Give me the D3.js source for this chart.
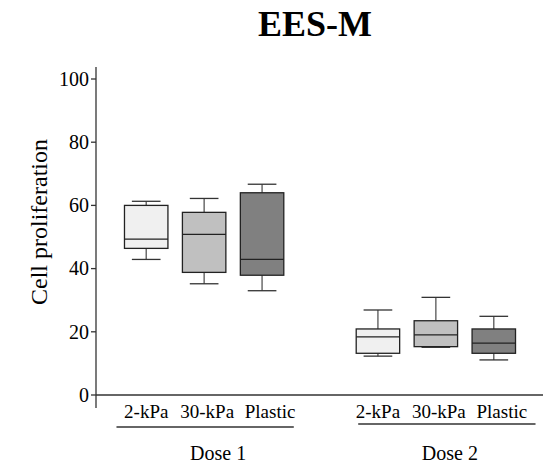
<!DOCTYPE html>
<html>
<head>
<meta charset="utf-8">
<script src="https://cdn.jsdelivr.net/npm/d3@7"></script>
<style>
  body { margin: 0; background: #fff; }
  svg text { font-family: "Liberation Serif", "DejaVu Serif", serif; fill: #000; }
</style>
</head>
<body>
<div id="chart"></div>
<script>
const width = 545;
const height = 467;

// box stats: [min, q1, median, q3, max]
const groups = ["Dose 1", "Dose 2"];
const materials = ["2-kPa", "30-kPa", "Plastic"];
const fills = ["#f0f0f0", "#c0c0c0", "#808080"];
const dose1 = [
  [42.9, 46.4, 49.3, 60.0, 61.3],
  [35.2, 38.8, 50.8, 57.8, 62.2],
  [33.0, 37.9, 42.9, 64.0, 66.7]
];
const dose2 = [
  [12.3, 13.2, 18.4, 20.9, 26.9],
  [15.1, 15.3, 19.0, 23.5, 30.9],
  [11.1, 13.2, 16.4, 20.9, 24.9]
];
const yTicks = [0, 20, 40, 60, 80, 100];

const svg = d3.select("#chart").append("svg")
    .attr("width", width)
    .attr("height", height);

const y = d3.scaleLinear().domain([0, 100]).range([395, 79]);

// 7 slots: 3 boxes, a spacer, 3 boxes
const slots = ["d1-0", "d1-1", "d1-2", "gap", "d2-0", "d2-1", "d2-2"];
const x = d3.scaleBand().domain(slots).range([110, 530]).padding(0.25);

const boxes = [];
[dose1, dose2].forEach((set, g) => {
  set.forEach((s, i) => {
    boxes.push({ key: "d" + (g + 1) + "-" + i, group: g, i, s });
  });
});

// title
svg.append("text")
    .attr("x", 315).attr("y", 36)
    .attr("text-anchor", "middle")
    .style("font-size", "36px")
    .style("font-weight", "bold")
    .text("EES-M");

// y axis
svg.append("line")
    .attr("x1", 96).attr("x2", 96)
    .attr("y1", 67).attr("y2", 408)
    .attr("stroke", "#333").attr("stroke-width", 1.3);

const yt = svg.selectAll(".ytick").data(yTicks).enter().append("g")
    .attr("transform", d => `translate(0,${y(d)})`);
yt.append("line").attr("x1", 91).attr("x2", 96)
    .attr("stroke", "#333").attr("stroke-width", 1.3);
yt.append("text").attr("x", 89).attr("dy", "0.34em")
    .attr("text-anchor", "end")
    .style("font-size", "20px")
    .text(d => d);

svg.append("text")
    .attr("transform", "translate(47,222) rotate(-90)")
    .attr("text-anchor", "middle")
    .style("font-size", "24px")
    .text("Cell proliferation");

// x axis baseline
svg.append("line")
    .attr("x1", 96).attr("x2", 543)
    .attr("y1", y(0)).attr("y2", y(0))
    .attr("stroke", "#333").attr("stroke-width", 1.3);

// boxes
const bw = x.bandwidth();
const cap = bw * 0.66;
const bg = svg.selectAll(".box").data(boxes).enter().append("g")
    .attr("transform", d => `translate(${x(d.key) + bw / 2},0)`);

bg.append("line")
    .attr("y1", d => y(d.s[4])).attr("y2", d => y(d.s[3]))
    .attr("stroke", "#555").attr("stroke-width", 1.3);
bg.append("line")
    .attr("y1", d => y(d.s[1])).attr("y2", d => y(d.s[0]))
    .attr("stroke", "#555").attr("stroke-width", 1.3);
bg.append("line")
    .attr("x1", -cap / 2).attr("x2", cap / 2)
    .attr("y1", d => y(d.s[4])).attr("y2", d => y(d.s[4]))
    .attr("stroke", "#333").attr("stroke-width", 1.3);
bg.append("line")
    .attr("x1", -cap / 2).attr("x2", cap / 2)
    .attr("y1", d => y(d.s[0])).attr("y2", d => y(d.s[0]))
    .attr("stroke", "#333").attr("stroke-width", 1.3);
bg.append("rect")
    .attr("x", -bw / 2).attr("width", bw)
    .attr("y", d => y(d.s[3]))
    .attr("height", d => y(d.s[1]) - y(d.s[3]))
    .attr("fill", d => fills[d.i])
    .attr("stroke", "#222").attr("stroke-width", 1.3);
bg.append("line")
    .attr("x1", -bw / 2).attr("x2", bw / 2)
    .attr("y1", d => y(d.s[2])).attr("y2", d => y(d.s[2]))
    .attr("stroke", "#222").attr("stroke-width", 1.3);

// category labels sit a little wider apart than the boxes
const labelShift = [0, 3, 8];
bg.append("text")
    .attr("x", d => labelShift[d.i])
    .attr("y", 418)
    .attr("text-anchor", "middle")
    .style("font-size", "19px")
    .text(d => materials[d.i]);

// group underlines and names
const lineY = [427, 424];
const lineShift = [0, 10];
groups.forEach((name, g) => {
  const first = x("d" + (g + 1) + "-0");
  const last = x("d" + (g + 1) + "-2") + bw;
  svg.append("line")
      .attr("x1", first - 8 + lineShift[g]).attr("x2", last + 10 + lineShift[g])
      .attr("y1", lineY[g]).attr("y2", lineY[g])
      .attr("stroke", "#333").attr("stroke-width", 1.3);
  svg.append("text")
      .attr("x", (first + last) / 2 + 14).attr("y", 460)
      .attr("text-anchor", "middle")
      .style("font-size", "20px")
      .text(name);
});
</script>
</body>
</html>
